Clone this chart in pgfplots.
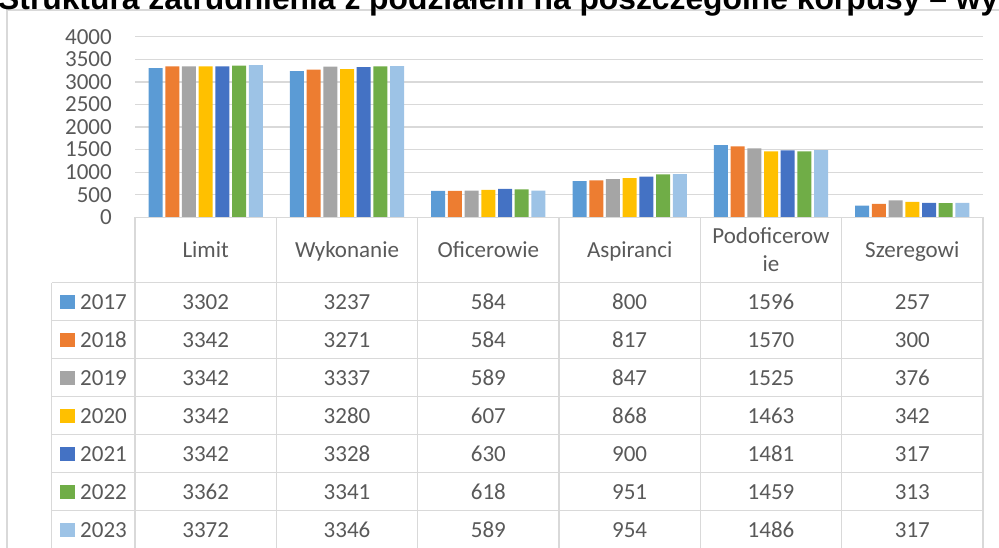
\documentclass[border=0pt]{standalone}
\usepackage{fontspec}
\setmainfont{Carlito}
\newfontfamily\titlefont{Liberation Sans}
\usepackage{pgfplots}
\pgfplotsset{compat=1.18}
\usepackage{pgfplotstable}

\definecolor{c2017}{HTML}{5B9BD5}
\definecolor{c2018}{HTML}{ED7D31}
\definecolor{c2019}{HTML}{A5A5A5}
\definecolor{c2020}{HTML}{FFC000}
\definecolor{c2021}{HTML}{4472C4}
\definecolor{c2022}{HTML}{70AD47}
\definecolor{c2023}{HTML}{9DC3E6}
\definecolor{gridgray}{HTML}{D9D9D9}
\definecolor{txt}{HTML}{595959}

% rows = korpusy, columns = years
\pgfplotstableread{
cat x y2017 y2018 y2019 y2020 y2021 y2022 y2023
Limit 0 3302 3342 3342 3342 3342 3362 3372
Wykonanie 1 3237 3271 3337 3280 3328 3341 3346
Oficerowie 2 584 584 589 607 630 618 589
Aspiranci 3 800 817 847 868 900 951 954
Podoficerowie 4 1596 1570 1525 1463 1481 1459 1486
Szeregowi 5 257 300 376 342 317 313 317
}\kadry

\newcommand{\tf}{\fontsize{23}{27}\selectfont}

\begin{document}
\begin{tikzpicture}
\path[use as bounding box, clip] (0,0) rectangle (999pt,-547pt);

% chart frame
\draw[gridgray, line width=1.5pt] (7pt,-600pt) -- (7pt,-10pt) -- (1100pt,-10pt);

\begin{axis}[
    at={(135pt,-217.3pt)}, anchor=south west,
    scale only axis, width=848pt, height=180.6pt,
    xmin=-0.5, xmax=5.5, ymin=0, ymax=4000,
    xtick=\empty, ytick={0,500,...,4000},
    ymajorgrids,
    major grid style={draw=gridgray, line width=1.3pt},
    axis line style={draw=none},
    major tick length=0pt,
    yticklabel style={font=\tf, text=txt, inner sep=0pt, xshift=-23pt},
    /pgf/number format/assume math mode=true,
    /pgf/number format/1000 sep={},
    ybar=2.7pt, bar width=14pt,
]
\addplot[fill=c2017, draw=none] table[x=x, y=y2017]{\kadry};
\addplot[fill=c2018, draw=none] table[x=x, y=y2018]{\kadry};
\addplot[fill=c2019, draw=none] table[x=x, y=y2019]{\kadry};
\addplot[fill=c2020, draw=none] table[x=x, y=y2020]{\kadry};
\addplot[fill=c2021, draw=none] table[x=x, y=y2021]{\kadry};
\addplot[fill=c2022, draw=none] table[x=x, y=y2022]{\kadry};
\addplot[fill=c2023, draw=none] table[x=x, y=y2023]{\kadry};
\end{axis}

% data table under the chart
\begin{scope}[x=1pt, y=-1pt, every node/.style={font=\tf, text=txt, inner sep=0pt, anchor=base}]
  \draw[gridgray, line width=1.5pt] (135,217.3) -- (983,217.3);
  \foreach \r in {0,...,7}
    \draw[gridgray, line width=1.5pt] (51.5,282.7+38*\r) -- (983,282.7+38*\r);
  \foreach \c in {0,...,6}
    \draw[gridgray, line width=1.5pt] (135+141.33*\c,217.3) -- (135+141.33*\c,560);
  \draw[gridgray, line width=1.5pt] (51.5,282.7) -- (51.5,560);

  \foreach \name [count=\i from 0] in {Limit,Wykonanie,Oficerowie,Aspiranci,,Szeregowi}
    \node at ({135+141.33*(\i+0.5)},257) {\name};
  \node at ({135+141.33*4.5},243) {Podoficerow};
  \node at ({135+141.33*4.5},271.5) {ie};

  \foreach \yr [count=\j from 0] in {2017,...,2023} {
    \pgfmathsetmacro\yy{282.7+38*\j+19}
    \fill[c\yr] (60,\yy-7) rectangle (75,\yy+7);
    \node[anchor=base west] at (80,\yy+7.5) {\yr};
    \foreach \i in {0,...,5} {
      \pgfplotstablegetelem{\i}{y\yr}\of\kadry
      \node at ({135+141.33*(\i+0.5)},\yy+7.5) {\pgfplotsretval};
    }
  }
\end{scope}

% title, cut off at the top as in the source
\node[anchor=base west, inner sep=0pt, font=\titlefont\bfseries\fontsize{31.8}{36}\selectfont]
  at (-2pt,-9.5pt) {Struktura zatrudnienia z podziałem na poszczególne korpusy – wykonanie};
\end{tikzpicture}
\end{document}
